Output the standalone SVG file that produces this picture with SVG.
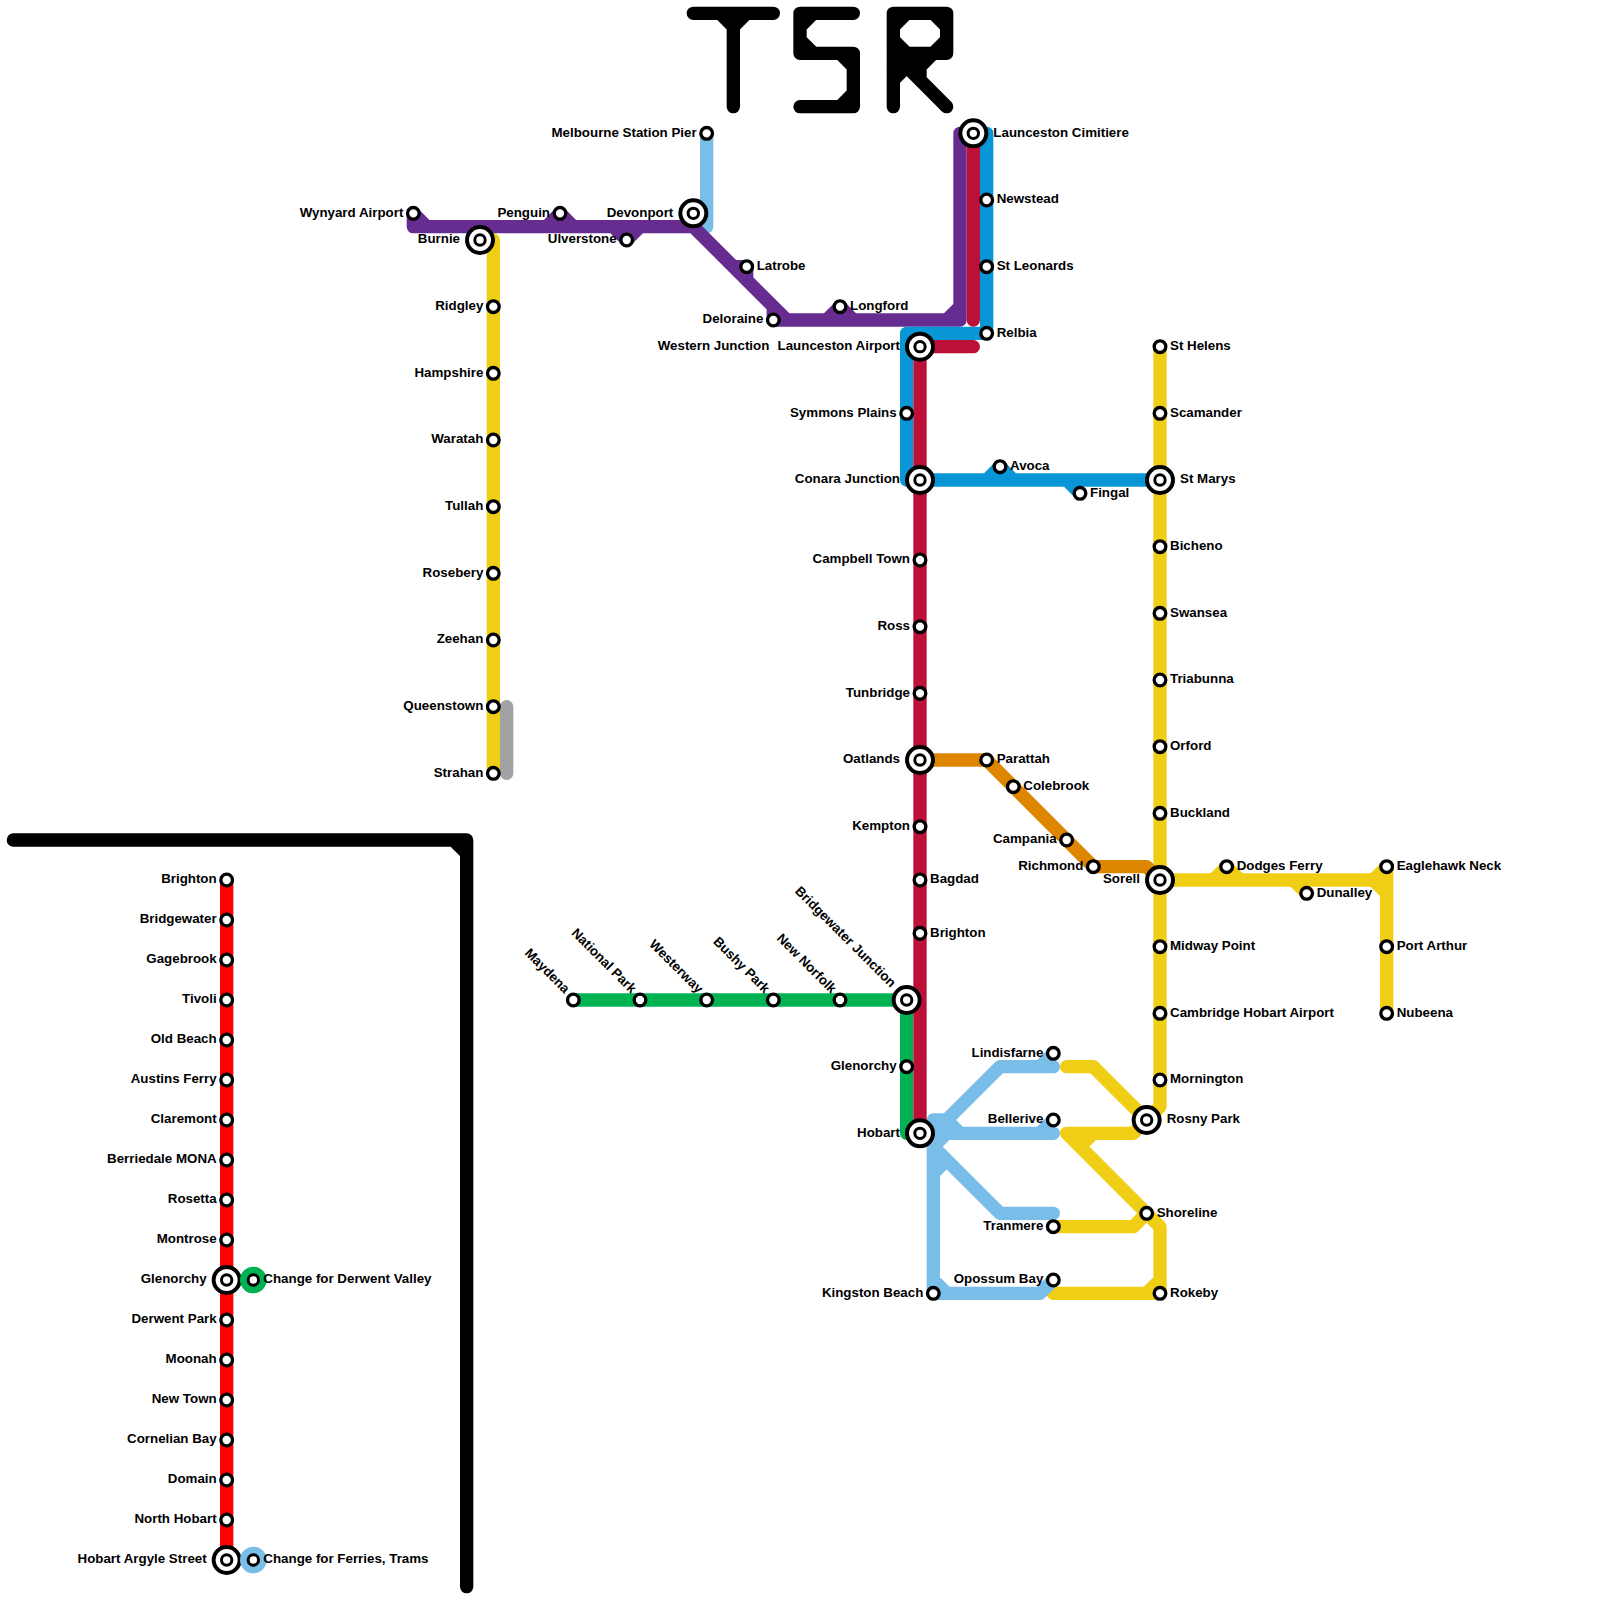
<svg xmlns="http://www.w3.org/2000/svg" width="1600" height="1600" viewBox="0 0 1600 1600">
<style>
.ln{fill:none;stroke-width:13.33;stroke-linecap:round;stroke-linejoin:round}
.k{stroke:#000}.rd{stroke:#f00}.cr{stroke:#bd1038}.bl{stroke:#0896d7}.lb{stroke:#79bde9}.pu{stroke:#662c90}.ye{stroke:#f0ce15}.or{stroke:#df8600}.gn{stroke:#00b251}.gy{stroke:#a1a2a3}
.st{fill:#fff;stroke:#000;stroke-width:3.33;r:5.83px}
.xo{fill:#fff;stroke:#000;stroke-width:4;r:13px}
.xi{fill:#fff;stroke:#000;stroke-width:3;r:5.2px}
.halo-g{fill:#00b251;r:13.33px}.halo-b{fill:#79bde9;r:13.33px}
text{font-family:"Liberation Sans",Arial,sans-serif;font-weight:700;font-size:13.33px;fill:#000}
.e{text-anchor:end}
</style>
<g id="logo">
<path class="ln k" d="M693.33 13.33H773.33M733.33 13.33V106.67M720 13.33L733.33 26.67L746.67 13.33"/>
<path class="ln k" d="M853.33 13.33H800V53.33H853.33V106.67H800M800 26.67L813.33 13.33M800 40L813.33 53.33M840 53.33L853.33 66.67M853.33 93.33L840 106.67"/>
<path class="ln k" d="M893.33 106.67V13.33H946.67V53.33H893.33L946.67 106.67M920 53.33V80M933.33 53.33L920 66.67M893.33 66.67H920M893.33 80L906.67 66.67M893.33 26.67L906.67 13.33M933.33 13.33L946.67 26.67M946.67 40L933.33 53.33M906.67 53.33L893.33 40"/>
</g>
<g id="connectors">
<path id="divider" class="ln k" d="M13.33 840H466.67V1586.67M453.33 840L466.67 853.33"/>
<path id="line-red" class="ln rd" d="M226.67 880V1560"/>
<path id="line-grey" class="ln gy" d="M506.67 706.67V773.33"/>
<path id="line-yellow-west" class="ln ye" d="M480 240H493.33V773.33"/>
<path id="line-yellow-east" class="ln ye" d="M1160 346.67V1106.67L1146.67 1120L1093.33 1066.67H1066.67M1146.67 1120L1133.33 1133.33H1066.67L1160 1226.67V1293.33H1053.33M1146.67 1293.33L1160 1280M1093.33 1133.33L1080 1146.67M1053.33 1226.67H1133.33L1146.67 1213.33M1160 880H1386.67M1213.33 880L1226.67 866.67L1240 880M1293.33 880L1306.67 893.33M1373.33 880L1386.67 866.67V1013.33M1373.33 880L1386.67 893.33"/>
<path id="line-orange" class="ln or" d="M920 760H986.67L1093.33 866.67H1146.67L1160 880"/>
<path id="line-lightblue-north" class="ln lb" d="M706.67 133.33V226.67"/>
<path id="line-lightblue-south" class="ln lb" d="M933.33 1120V1293.33H1040L1053.33 1280M933.33 1280L946.67 1293.33M933.33 1120H946.67L933.33 1133.33M933.33 1133.33L1000 1066.67H1053.33M1040 1066.67L1053.33 1053.33M946.67 1120L960 1133.33M933.33 1133.33H1053.33M1040 1133.33L1053.33 1120M933.33 1146.67L1000 1213.33H1053.33M933.33 1146.67L946.67 1133.33M933.33 1173.33L946.67 1160"/>
<path id="line-purple" class="ln pu" d="M413.33 213.33V226.67H693.33L786.67 320H960V133.33M413.33 213.33L426.67 226.67M546.67 226.67L560 213.33L573.33 226.67M613.33 226.67L626.67 240L640 226.67M733.33 266.67H746.67V280M773.33 306.67V320H786.67M826.67 320L840 306.67L853.33 320M946.67 320L960 306.67"/>
<path id="line-blue" class="ln bl" d="M986.67 133.33V333.33H906.67V480H1160M986.67 480L1000 466.67L1013.33 480M1066.67 480L1080 493.33"/>
<path id="line-green" class="ln gn" d="M573.33 1000H906.67V1133.33H920"/>
<path id="line-crimson" class="ln cr" d="M973.33 133.33V320M973.33 346.67H920V1133.33"/>
</g>
<g id="n-brighton-s"><circle class="st" cx="226.67" cy="880"/><text class="e" x="216.67" y="883">Brighton</text></g>
<g id="n-bridgewater"><circle class="st" cx="226.67" cy="920"/><text class="e" x="216.67" y="923">Bridgewater</text></g>
<g id="n-gagebrook"><circle class="st" cx="226.67" cy="960"/><text class="e" x="216.67" y="963">Gagebrook</text></g>
<g id="n-tivoli"><circle class="st" cx="226.67" cy="1000"/><text class="e" x="216.67" y="1003">Tivoli</text></g>
<g id="n-old-beach"><circle class="st" cx="226.67" cy="1040"/><text class="e" x="216.67" y="1043">Old Beach</text></g>
<g id="n-austins-ferry"><circle class="st" cx="226.67" cy="1080"/><text class="e" x="216.67" y="1083">Austins Ferry</text></g>
<g id="n-claremont"><circle class="st" cx="226.67" cy="1120"/><text class="e" x="216.67" y="1123">Claremont</text></g>
<g id="n-berriedale"><circle class="st" cx="226.67" cy="1160"/><text class="e" x="216.67" y="1163">Berriedale MONA</text></g>
<g id="n-rosetta"><circle class="st" cx="226.67" cy="1200"/><text class="e" x="216.67" y="1203">Rosetta</text></g>
<g id="n-montrose"><circle class="st" cx="226.67" cy="1240"/><text class="e" x="216.67" y="1243">Montrose</text></g>
<g id="n-glenorchy-s"><circle class="xo" cx="226.67" cy="1280"/><circle class="xi" cx="226.67" cy="1280"/><text class="e" x="206.67" y="1283">Glenorchy</text></g>
<g id="n-derwent-park"><circle class="st" cx="226.67" cy="1320"/><text class="e" x="216.67" y="1323">Derwent Park</text></g>
<g id="n-moonah"><circle class="st" cx="226.67" cy="1360"/><text class="e" x="216.67" y="1363">Moonah</text></g>
<g id="n-new-town"><circle class="st" cx="226.67" cy="1400"/><text class="e" x="216.67" y="1403">New Town</text></g>
<g id="n-cornelian-bay"><circle class="st" cx="226.67" cy="1440"/><text class="e" x="216.67" y="1443">Cornelian Bay</text></g>
<g id="n-domain"><circle class="st" cx="226.67" cy="1480"/><text class="e" x="216.67" y="1483">Domain</text></g>
<g id="n-north-hobart"><circle class="st" cx="226.67" cy="1520"/><text class="e" x="216.67" y="1523">North Hobart</text></g>
<g id="n-hobart-argyle"><circle class="xo" cx="226.67" cy="1560"/><circle class="xi" cx="226.67" cy="1560"/><text class="e" x="206.67" y="1563">Hobart Argyle Street</text></g>
<g id="n-change-derwent"><circle class="halo-g" cx="253.33" cy="1280"/><circle class="xi" cx="253.33" cy="1280"/><text x="263.33" y="1283">Change for Derwent Valley</text></g>
<g id="n-change-ferries"><circle class="halo-b" cx="253.33" cy="1560"/><circle class="xi" cx="253.33" cy="1560"/><text x="263.33" y="1563">Change for Ferries, Trams</text></g>
<g id="n-wynyard"><circle class="st" cx="413.33" cy="213.33"/><text class="e" x="403.33" y="217">Wynyard Airport</text></g>
<g id="n-burnie"><circle class="xo" cx="480" cy="240"/><circle class="xi" cx="480" cy="240"/><text class="e" x="460" y="243">Burnie</text></g>
<g id="n-ridgley"><circle class="st" cx="493.33" cy="306.67"/><text class="e" x="483.33" y="309.67">Ridgley</text></g>
<g id="n-hampshire"><circle class="st" cx="493.33" cy="373.33"/><text class="e" x="483.33" y="377">Hampshire</text></g>
<g id="n-waratah"><circle class="st" cx="493.33" cy="440"/><text class="e" x="483.33" y="443">Waratah</text></g>
<g id="n-tullah"><circle class="st" cx="493.33" cy="506.67"/><text class="e" x="483.33" y="509.67">Tullah</text></g>
<g id="n-rosebery"><circle class="st" cx="493.33" cy="573.33"/><text class="e" x="483.33" y="577">Rosebery</text></g>
<g id="n-zeehan"><circle class="st" cx="493.33" cy="640"/><text class="e" x="483.33" y="643">Zeehan</text></g>
<g id="n-queenstown"><circle class="st" cx="493.33" cy="706.67"/><text class="e" x="483.33" y="709.67">Queenstown</text></g>
<g id="n-strahan"><circle class="st" cx="493.33" cy="773.33"/><text class="e" x="483.33" y="777">Strahan</text></g>
<g id="n-penguin"><circle class="st" cx="560" cy="213.33"/><text class="e" x="550" y="217">Penguin</text></g>
<g id="n-ulverstone"><circle class="st" cx="626.67" cy="240"/><text class="e" x="616.67" y="243">Ulverstone</text></g>
<g id="n-devonport"><circle class="xo" cx="693.33" cy="213.33"/><circle class="xi" cx="693.33" cy="213.33"/><text class="e" x="673.33" y="217">Devonport</text></g>
<g id="n-melbourne-pier"><circle class="st" cx="706.67" cy="133.33"/><text class="e" x="696.67" y="137">Melbourne Station Pier</text></g>
<g id="n-latrobe"><circle class="st" cx="746.67" cy="266.67"/><text x="756.67" y="269.67">Latrobe</text></g>
<g id="n-deloraine"><circle class="st" cx="773.33" cy="320"/><text class="e" x="763.33" y="323">Deloraine</text></g>
<g id="n-longford"><circle class="st" cx="840" cy="306.67"/><text x="850" y="309.67">Longford</text></g>
<g id="n-western-junction"><text class="e" x="769.33" y="350">Western Junction</text></g>
<g id="n-launceston-cimitiere"><circle class="xo" cx="973.33" cy="133.33"/><circle class="xi" cx="973.33" cy="133.33"/><text x="993.33" y="137">Launceston Cimitiere</text></g>
<g id="n-newstead"><circle class="st" cx="986.67" cy="200"/><text x="996.67" y="203">Newstead</text></g>
<g id="n-st-leonards"><circle class="st" cx="986.67" cy="266.67"/><text x="996.67" y="269.67">St Leonards</text></g>
<g id="n-relbia"><circle class="st" cx="986.67" cy="333.33"/><text x="996.67" y="337">Relbia</text></g>
<g id="n-launceston-airport"><circle class="xo" cx="920" cy="346.67"/><circle class="xi" cx="920" cy="346.67"/><text class="e" x="900" y="349.67">Launceston Airport</text></g>
<g id="n-symmons-plains"><circle class="st" cx="906.67" cy="413.33"/><text class="e" x="896.67" y="417">Symmons Plains</text></g>
<g id="n-conara"><circle class="xo" cx="920" cy="480"/><circle class="xi" cx="920" cy="480"/><text class="e" x="900" y="483">Conara Junction</text></g>
<g id="n-avoca"><circle class="st" cx="1000" cy="466.67"/><text x="1010" y="469.67">Avoca</text></g>
<g id="n-fingal"><circle class="st" cx="1080" cy="493.33"/><text x="1090" y="497">Fingal</text></g>
<g id="n-campbell-town"><circle class="st" cx="920" cy="560"/><text class="e" x="910" y="563">Campbell Town</text></g>
<g id="n-ross"><circle class="st" cx="920" cy="626.67"/><text class="e" x="910" y="629.67">Ross</text></g>
<g id="n-tunbridge"><circle class="st" cx="920" cy="693.33"/><text class="e" x="910" y="697">Tunbridge</text></g>
<g id="n-oatlands"><circle class="xo" cx="920" cy="760"/><circle class="xi" cx="920" cy="760"/><text class="e" x="900" y="763">Oatlands</text></g>
<g id="n-kempton"><circle class="st" cx="920" cy="826.67"/><text class="e" x="910" y="829.67">Kempton</text></g>
<g id="n-bagdad"><circle class="st" cx="920" cy="880"/><text x="930" y="883">Bagdad</text></g>
<g id="n-brighton"><circle class="st" cx="920" cy="933.33"/><text x="930" y="937">Brighton</text></g>
<g id="n-parattah"><circle class="st" cx="986.67" cy="760"/><text x="996.67" y="763">Parattah</text></g>
<g id="n-colebrook"><circle class="st" cx="1013.33" cy="786.67"/><text x="1023.33" y="789.67">Colebrook</text></g>
<g id="n-campania"><circle class="st" cx="1066.67" cy="840"/><text class="e" x="1056.67" y="843">Campania</text></g>
<g id="n-richmond"><circle class="st" cx="1093.33" cy="866.67"/><text class="e" x="1083.33" y="869.67">Richmond</text></g>
<g id="n-st-helens"><circle class="st" cx="1160" cy="346.67"/><text x="1170" y="349.67">St Helens</text></g>
<g id="n-scamander"><circle class="st" cx="1160" cy="413.33"/><text x="1170" y="417">Scamander</text></g>
<g id="n-st-marys"><circle class="xo" cx="1160" cy="480"/><circle class="xi" cx="1160" cy="480"/><text x="1180" y="483">St Marys</text></g>
<g id="n-bicheno"><circle class="st" cx="1160" cy="546.67"/><text x="1170" y="549.67">Bicheno</text></g>
<g id="n-swansea"><circle class="st" cx="1160" cy="613.33"/><text x="1170" y="617">Swansea</text></g>
<g id="n-triabunna"><circle class="st" cx="1160" cy="680"/><text x="1170" y="683">Triabunna</text></g>
<g id="n-orford"><circle class="st" cx="1160" cy="746.67"/><text x="1170" y="749.67">Orford</text></g>
<g id="n-buckland"><circle class="st" cx="1160" cy="813.33"/><text x="1170" y="817">Buckland</text></g>
<g id="n-sorell"><circle class="xo" cx="1160" cy="880"/><circle class="xi" cx="1160" cy="880"/><text class="e" x="1140" y="883">Sorell</text></g>
<g id="n-midway-point"><circle class="st" cx="1160" cy="946.67"/><text x="1170" y="949.67">Midway Point</text></g>
<g id="n-cambridge"><circle class="st" cx="1160" cy="1013.33"/><text x="1170" y="1017">Cambridge Hobart Airport</text></g>
<g id="n-mornington"><circle class="st" cx="1160" cy="1080"/><text x="1170" y="1083">Mornington</text></g>
<g id="n-rosny-park"><circle class="xo" cx="1146.67" cy="1120"/><circle class="xi" cx="1146.67" cy="1120"/><text x="1166.67" y="1123">Rosny Park</text></g>
<g id="n-shoreline"><circle class="st" cx="1146.67" cy="1213.33"/><text x="1156.67" y="1217">Shoreline</text></g>
<g id="n-rokeby"><circle class="st" cx="1160" cy="1293.33"/><text x="1170" y="1297">Rokeby</text></g>
<g id="n-dodges-ferry"><circle class="st" cx="1226.67" cy="866.67"/><text x="1236.67" y="869.67">Dodges Ferry</text></g>
<g id="n-dunalley"><circle class="st" cx="1306.67" cy="893.33"/><text x="1316.67" y="897">Dunalley</text></g>
<g id="n-eaglehawk"><circle class="st" cx="1386.67" cy="866.67"/><text x="1396.67" y="869.67">Eaglehawk Neck</text></g>
<g id="n-port-arthur"><circle class="st" cx="1386.67" cy="946.67"/><text x="1396.67" y="949.67">Port Arthur</text></g>
<g id="n-nubeena"><circle class="st" cx="1386.67" cy="1013.33"/><text x="1396.67" y="1017">Nubeena</text></g>
<g id="n-lindisfarne"><circle class="st" cx="1053.33" cy="1053.33"/><text class="e" x="1043.33" y="1057">Lindisfarne</text></g>
<g id="n-bellerive"><circle class="st" cx="1053.33" cy="1120"/><text class="e" x="1043.33" y="1123">Bellerive</text></g>
<g id="n-tranmere"><circle class="st" cx="1053.33" cy="1226.67"/><text class="e" x="1043.33" y="1229.67">Tranmere</text></g>
<g id="n-opossum-bay"><circle class="st" cx="1053.33" cy="1280"/><text class="e" x="1043.33" y="1283">Opossum Bay</text></g>
<g id="n-kingston-beach"><circle class="st" cx="933.33" cy="1293.33"/><text class="e" x="923.33" y="1297">Kingston Beach</text></g>
<g id="n-hobart"><circle class="xo" cx="920" cy="1133.33"/><circle class="xi" cx="920" cy="1133.33"/><text class="e" x="900" y="1137">Hobart</text></g>
<g id="n-glenorchy"><circle class="st" cx="906.67" cy="1066.67"/><text class="e" x="896.67" y="1069.67">Glenorchy</text></g>
<g id="n-bridgewater-junction"><circle class="xo" cx="906.67" cy="1000"/><circle class="xi" cx="906.67" cy="1000"/><text class="e" transform="translate(890.5 988) rotate(45)">Bridgewater Junction</text></g>
<g id="n-new-norfolk"><circle class="st" cx="840" cy="1000"/><text class="e" transform="translate(831 994) rotate(45)">New Norfolk</text></g>
<g id="n-bushy-park"><circle class="st" cx="773.33" cy="1000"/><text class="e" transform="translate(764.33 994) rotate(45)">Bushy Park</text></g>
<g id="n-westerway"><circle class="st" cx="706.67" cy="1000"/><text class="e" transform="translate(697.67 994) rotate(45)">Westerway</text></g>
<g id="n-national-park"><circle class="st" cx="640" cy="1000"/><text class="e" transform="translate(631 994) rotate(45)">National Park</text></g>
<g id="n-maydena"><circle class="st" cx="573.33" cy="1000"/><text class="e" transform="translate(564.33 994) rotate(45)">Maydena</text></g>
</svg>
